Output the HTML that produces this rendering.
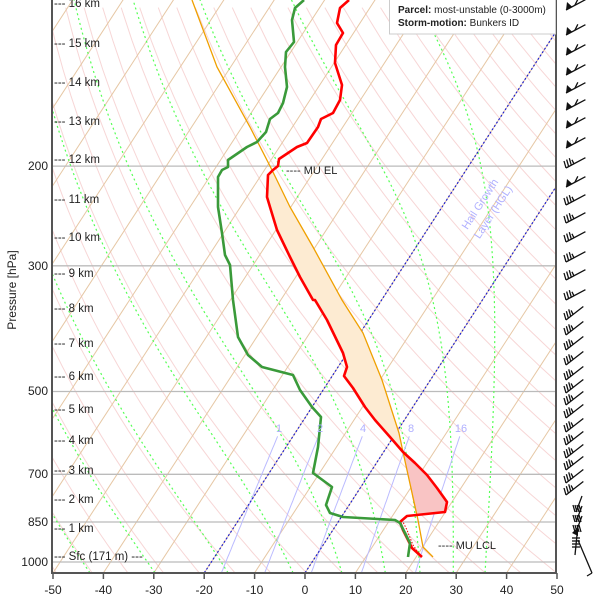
<!DOCTYPE html>
<html><head><meta charset="utf-8"><style>
html,body{margin:0;padding:0;background:#fff;}
svg{display:block;font-family:"Liberation Sans",sans-serif;}
</style></head><body>
<svg id="s" width="600" height="600" viewBox="0 0 600 600" xmlns="http://www.w3.org/2000/svg">
<defs><clipPath id="c"><rect x="52" y="0" width="504" height="573"/></clipPath></defs>
<g id="bg" clip-path="url(#c)"></g>
<g clip-path="url(#c)">
<polygon id="cape" fill="#fdebd2" stroke="none"/>
<polygon id="cin" fill="#f9c4c4" stroke="none"/>
<polyline fill="none" stroke="#f0a000" stroke-width="1.3" points="192,0 217,67 250,127 272,170 290,207 313,247 342,300 363,333 382,380 399,433 403,452 418,520 423,547 433,557"/>
<polyline fill="none" stroke="#e00" stroke-width="1" stroke-dasharray="1.5,1.5" points="402,520 407,530 413,545 420,555"/>
<polyline fill="none" stroke="#f00" stroke-width="2.6" stroke-linejoin="round" points="349,0 340,8 337,23 343,33 336,45 335,63 342,85 340,100 333,113 321,119 318,127 307,143 297,147 279,159 278,166 273,170 268,175 267,197 270,207 277,230 290,257 300,277 313,300 315,300 327,320 343,353 347,367 344,376 353,388 365,407 375,420 390,437 403,452 415,463 427,475 437,488 447,502 445,512 407,516 400,522 403,530 412,548 422,557"/>
<polyline fill="none" stroke="#3a9a3a" stroke-width="2.6" stroke-linejoin="round" points="304,0 295,8 292,20 294,42 286,52 285,67 287,87 283,103 278,113 270,119 266,132 257,142 247,147 228,160 228,167 222,170 218,177 218,207 222,233 225,255 230,265 233,300 238,337 248,355 262,367 293,375 300,390 312,407 321,417 318,447 313,473 332,487 326,505 330,513 343,517 395,520 400,523 410,543 408,557"/>
</g>
<g fill="#b0b0ff" font-size="11" text-anchor="middle">
<text transform="translate(483,206) rotate(-57)">Hail Growth</text>
<text transform="translate(496,214) rotate(-57)">Layer (HGL)</text>
<text x="279" y="432">1</text><text x="320" y="432">2</text><text x="363" y="432">4</text><text x="411" y="432">8</text><text x="461" y="432">16</text>
</g>
<g fill="#222" font-size="11">
<text x="286" y="174">---- MU EL</text>
<text x="438" y="549">---- MU LCL</text>
</g>
<g font-size="11.5" fill="#222">
<text x="54" y="7">--- 16 km</text><text x="54" y="47">--- 15 km</text><text x="54" y="86">--- 14 km</text>
<text x="54" y="125">--- 13 km</text><text x="54" y="163">--- 12 km</text><text x="54" y="203">--- 11 km</text>
<text x="54" y="241">--- 10 km</text><text x="54" y="277">--- 9 km</text><text x="54" y="312">--- 8 km</text>
<text x="54" y="347">--- 7 km</text><text x="54" y="380">--- 6 km</text><text x="54" y="413">--- 5 km</text>
<text x="54" y="444">--- 4 km</text><text x="54" y="474">--- 3 km</text><text x="54" y="503">--- 2 km</text>
<text x="54" y="532">--- 1 km</text><text x="54" y="560">--- Sfc (171 m) ---</text>
</g>
<g font-size="12" fill="#222" text-anchor="end">
<text x="48" y="170">200</text><text x="48" y="270">300</text><text x="48" y="395">500</text>
<text x="48" y="478">700</text><text x="48" y="526">850</text><text x="48" y="566">1000</text>
</g>
<text transform="translate(16,290) rotate(-90)" font-size="12" fill="#222" text-anchor="middle">Pressure [hPa]</text>
<g id="xt" font-size="12" fill="#222" text-anchor="middle"></g>
<line x1="52" y1="0" x2="52" y2="574" stroke="#555" stroke-width="2"/>
<line x1="51" y1="573" x2="557" y2="573" stroke="#555" stroke-width="2"/>
<line x1="556" y1="0" x2="556" y2="574" stroke="#555" stroke-width="2"/>
<rect x="389.5" y="-1" width="166" height="35" fill="#fff" stroke="#ccc"/>
<text x="398" y="13" font-size="10" fill="#222"><tspan font-weight="bold">Parcel:</tspan> most-unstable (0-3000m)</text>
<text x="398" y="26" font-size="10" fill="#222"><tspan font-weight="bold">Storm-motion:</tspan> Bunkers ID</text>
<g id="wb" stroke="#111" stroke-width="1.3" fill="#111"></g>
</svg>
<script>
var NS="http://www.w3.org/2000/svg";
var SK=0.65;
function Y(p){return 562-246*Math.log(1000/p);}
function X(T,p){return 305+5.04*T+SK*(573-Y(p));}
var bg=document.getElementById('bg');
function el(tag,a,par){var e=document.createElementNS(NS,tag);for(var k in a)e.setAttribute(k,a[k]);(par||bg).appendChild(e);return e;}
function pl(pts,a){a.points=pts.map(function(q){return q[0].toFixed(1)+','+q[1].toFixed(1)}).join(' ');a.fill='none';el('polyline',a);}
for(var th=200;th<=560;th+=7){var pts=[];for(var p=1050;p>=95;p-=15){var T=th*Math.pow(p/1000,0.286)-273.15;pts.push([X(T,p),Y(p)]);}pl(pts,{stroke:'#f7d6d6','stroke-width':1});}
for(var t=-180;t<=50;t+=10){pl([[X(t,1050),Y(1050)],[X(t,95),Y(95)]],{stroke:'#e6c7a4','stroke-width':1});}
[200,300,500,700,850,1000].forEach(function(p){pl([[52,Y(p)],[556,Y(p)]],{stroke:'#bbb','stroke-width':1.3});});
function es(Tc){return 6.112*Math.exp(17.67*Tc/(Tc+243.5));}
[-42.7,-29.8,-15.3,-2.4,7.3,15.9,22.8,29.4,35.7].forEach(function(T0){var T=T0+273.15,p=1045,pts=[[X(T0,p),Y(p)]];
 while(p>100){var Tc=T-273.15,e=es(Tc),rs=0.622*e/(p-e);var dTdp=(287*T+2.5e6*rs)/(p*(1004+2.5e6*2.5e6*rs*0.622/(287*T*T)));var dp=-5;T+=dTdp*dp;p+=dp;pts.push([X(T-273.15,p),Y(p)]);}
 pl(pts,{stroke:'#5f5','stroke-width':1.2,'stroke-dasharray':'2,3'});});
[1,2,4,8,16].forEach(function(w){var pts=[];for(var p=1050;p>=600;p-=10){var e=w/1000*p/(0.622+w/1000),l=Math.log(e/6.112),Td=243.5*l/(17.67-l);pts.push([X(Td,p),Y(p)]);}pl(pts,{stroke:'#bbf','stroke-width':1});});
[0,-20].forEach(function(t){pl([[X(t,1045),Y(1045)],[X(t,95),Y(95)]],{stroke:'#22c','stroke-width':1.2,'stroke-dasharray':'2,2'});});
var red=[[273,170],[268,175],[267,197],[270,207],[277,230],[290,257],[300,277],[313,300],[327,320],[343,353],[347,367],[344,376],[353,388],[365,407],[375,420],[390,437],[403,452]];
var org=[[403,452],[399,433],[382,380],[363,333],[342,300],[313,247],[290,207],[272,170]];
document.getElementById('cape').setAttribute('points',red.concat(org).map(function(q){return q.join(',')}).join(' '));
document.getElementById('cin').setAttribute('points','403,452 415,463 427,475 437,488 447,502 445,512 416,515 403,452');
var xt=document.getElementById('xt');
for(var v=-50;v<=50;v+=10){var x=305+5.04*v;el('line',{x1:x,y1:573,x2:x,y2:579,stroke:'#555','stroke-width':1.5},xt);var tx=el('text',{x:x,y:594},xt);tx.textContent=v;}
var wb=document.getElementById('wb');
var ys=[5,30,50,70,88,105,123,143,163,182,200,218,237,257,275,295,315,330,345,360,375,388,400,413,427,440,453,465,478,490];
var flags={0:1,1:1,2:1,3:1,4:1,5:1,6:1,7:1,9:1};
ys.forEach(function(y,i){
 var ang=i<16?-28:-38; var r=ang*Math.PI/180;
 var x0=566,y0=y+5,L=22,dx=Math.cos(r),dy=Math.sin(r);
 el('line',{x1:x0,y1:y0,x2:x0+dx*L,y2:y0+dy*L},wb);
 if(flags[i]){el('polygon',{points:x0+','+y0+' '+(x0+dx*7)+','+(y0+dy*7)+' '+(x0+1)+','+(y0-8),stroke:'none'},wb);
   el('line',{x1:x0+dx*10,y1:y0+dy*10,x2:x0+dx*10+3,y2:y0+dy*10-6},wb);}
 else{for(var k=0;k<4;k++){var bx=x0+dx*k*3,by=y0+dy*k*3;el('line',{x1:bx,y1:by,x2:bx-2,y2:by-(k==3?4:7)},wb);}}
});
[508,518,528].forEach(function(y){el('line',{x1:576,y1:y+4,x2:582,y2:y-12},wb);for(var k=0;k<4;k++)el('line',{x1:575+k*2,y1:y+4,x2:573+k*2,y2:y-3},wb);});
el('line',{x1:578,y1:525,x2:575,y2:555},wb);
el('polygon',{points:'572,533 578,527 578,536',stroke:'none'},wb);
for(var k=0;k<4;k++)el('line',{x1:572,y1:538+k*3,x2:580,y2:538+k*3},wb);
el('line',{x1:578,y1:540,x2:592,y2:573},wb);el('line',{x1:592,y1:573,x2:587,y2:576},wb);
</script>
</body></html>
